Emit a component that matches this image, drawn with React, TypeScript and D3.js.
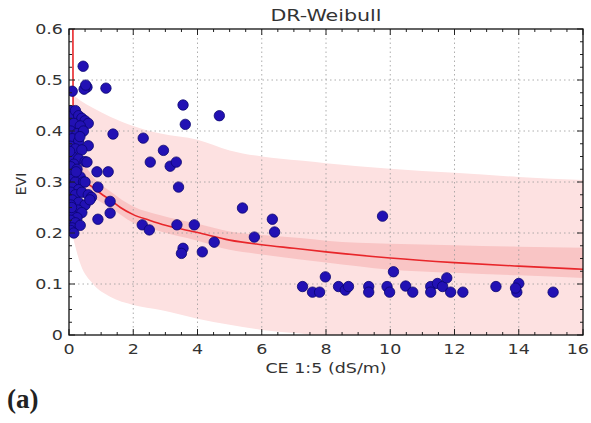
import React from "react";
import * as d3 from "d3";

// Fitted DR-Weibull curve, sampled along CE
const fitX = [0.12, 0.13, 0.3, 0.5, 0.75, 1, 1.28, 1.6, 2, 2.5, 3, 4, 5, 6, 7, 8, 10, 12, 14, 16];
const fitY = [0.65, 0.34, 0.318, 0.302, 0.289, 0.277, 0.265, 0.25, 0.236, 0.225, 0.215, 0.201, 0.186, 0.177, 0.17, 0.163, 0.151, 0.142, 0.135, 0.129];

// Confidence band (inner) and prediction band (outer)
const bandX = [0.13, 0.35, 0.75, 1.28, 2, 2.85, 4, 5, 6, 7.2, 8, 10, 12, 14, 16];
const ciLow = [0.3, 0.29, 0.27, 0.25, 0.22, 0.203, 0.185, 0.167, 0.158, 0.148, 0.142, 0.128, 0.122, 0.117, 0.112];
const ciHigh = [0.38, 0.35, 0.31, 0.282, 0.252, 0.235, 0.218, 0.203, 0.196, 0.19, 0.185, 0.179, 0.176, 0.173, 0.171];
const piLow = [0.19, 0.14, 0.1, 0.075, 0.059, 0.049, 0.032, 0.02, 0.01, 0.003, -0.003, -0.015, -0.025, -0.033, -0.04];
const piHigh = [0.47, 0.46, 0.445, 0.428, 0.41, 0.395, 0.383, 0.362, 0.35, 0.342, 0.337, 0.326, 0.318, 0.31, 0.304];

// Observed samples: CE 1:5 (dS/m) and EVI
const ceValues = [
  0.05, 0.1, 0.2, 0.3, 0.4, 0.5, 0.6, 0.15, 0.35, 0.05, 0.25, 0.45, 0.1, 0.3, 0.34, 0.05, 0.2, 0.6, 0.4, 0.1,
  0.3, 0.5, 0.56, 0.15, 0.05, 0.25, 0.1, 0.35, 0.05, 0.2, 0.45, 0.1, 0.3, 0.05, 0.2, 0.4, 0.6, 0.7, 0.1, 0.3,
  0.5, 0.05, 0.15, 0.28, 0.4, 0.1, 0.25, 0.05, 0.2, 0.1, 0.05, 0.15, 0.35, 0.65, 0.5, 0.22, 0.02, 0.08,
  0.44, 0.56, 0.47, 0.52, 1.15, 0.1,
  0.87, 1.22, 0.9, 0.9, 1.28, 1.28, 1.37,
  3.55, 3.62, 4.68, 2.31, 2.94, 2.53, 3.15, 3.34, 3.41,
  2.28, 2.5, 3.36, 3.9, 4.52, 3.55, 3.5, 4.15, 5.4, 5.77, 6.33, 6.4, 9.76,
  7.27, 7.58, 7.8, 7.98, 8.39, 8.6, 8.7, 9.33, 9.33, 9.9, 9.98, 10.1, 10.48, 10.7,
  11.26, 11.26, 11.47, 11.63, 11.76, 11.88, 12.26, 13.29, 14.0, 13.94, 13.9, 15.07,
];
const eviValues = [
  0.44, 0.43, 0.44, 0.43, 0.425, 0.42, 0.415, 0.415, 0.41, 0.4, 0.395, 0.4, 0.385, 0.38, 0.389, 0.37, 0.365, 0.371, 0.363, 0.35,
  0.345, 0.34, 0.339, 0.335, 0.33, 0.325, 0.315, 0.31, 0.305, 0.3, 0.3, 0.29, 0.285, 0.28, 0.275, 0.28, 0.275, 0.27, 0.265, 0.26,
  0.255, 0.255, 0.245, 0.245, 0.24, 0.235, 0.23, 0.225, 0.22, 0.21, 0.205, 0.2, 0.215, 0.265, 0.3, 0.32, 0.36, 0.25,
  0.527, 0.486, 0.482, 0.49, 0.484, 0.478,
  0.32, 0.32, 0.29, 0.227, 0.262, 0.239, 0.394,
  0.451, 0.413, 0.43, 0.386, 0.362, 0.339, 0.331, 0.339, 0.29,
  0.216, 0.206, 0.216, 0.216, 0.182, 0.17, 0.16, 0.163, 0.249, 0.192, 0.227, 0.202, 0.233,
  0.095, 0.084, 0.084, 0.114, 0.095, 0.088, 0.095, 0.095, 0.084, 0.095, 0.084, 0.124, 0.096, 0.084,
  0.095, 0.084, 0.101, 0.095, 0.112, 0.084, 0.084, 0.095, 0.101, 0.084, 0.092, 0.084,
];

const xTicks = [0, 2, 4, 6, 8, 10, 12, 14, 16];
const yTicks = [0, 0.1, 0.2, 0.3, 0.4, 0.5, 0.6];

const W = 591;
const H = 423;
const M = { left: 69, right: 583, top: 29, bottom: 335 };
const FONT = "'DejaVu Sans', sans-serif";
const TEXT_COL = "#333";
const WIDEN = 1.25;

// Horizontal text drawn slightly widened
function WideText(props: { x: number; y: number; size: number; anchor?: string; children: React.ReactNode }) {
  const { x, y, size, anchor = "start", children } = props;
  return (
    <text
      transform={`translate(${x},${y}) scale(${WIDEN},1)`}
      textAnchor={anchor}
      fontFamily={FONT}
      fontSize={size}
      fill={TEXT_COL}
    >
      {children}
    </text>
  );
}

export default function App() {
  const x = d3.scaleLinear().domain([0, 16]).range([M.left, M.right]);
  const y = d3.scaleLinear().domain([0, 0.6]).range([M.bottom, M.top]);

  const fitLine = d3
    .line<number>()
    .x((_, i) => x(fitX[i]))
    .y((d) => y(d))
    .curve(d3.curveMonotoneX)(fitY) as string;

  const band = (lo: number[], hi: number[]) =>
    d3
      .area<number>()
      .x((_, i) => x(bandX[i]))
      .y0((_, i) => y(lo[i]))
      .y1((d) => y(d))
      .curve(d3.curveMonotoneX)(hi) as string;

  const minorX = d3.range(0, 16.01, 0.5);
  const minorY = d3.range(0, 0.601, 0.025);
  const lastTick = xTicks[xTicks.length - 1];

  return (
    <svg width={W} height={H} style={{ position: "absolute", left: 0, top: 0, background: "#fff" }}>
      <defs>
        <clipPath id="plot">
          <rect x={M.left} y={M.top} width={M.right - M.left} height={M.bottom - M.top} />
        </clipPath>
      </defs>

      <g clipPath="url(#plot)">
        <path d={band(piLow, piHigh)} fill="#fde1e1" />
        <path d={band(ciLow, ciHigh)} fill="#f9c5c5" />
      </g>

      {/* dotted grid */}
      {xTicks.slice(1, -1).map((t) => (
        <line key={"gx" + t} x1={x(t)} x2={x(t)} y1={M.top} y2={M.bottom} stroke="#999" strokeWidth={0.8} strokeDasharray="1.5,3" />
      ))}
      {yTicks.slice(1, -1).map((t) => (
        <line key={"gy" + t} x1={M.left} x2={M.right} y1={y(t)} y2={y(t)} stroke="#999" strokeWidth={0.8} strokeDasharray="1.5,3" />
      ))}

      <g clipPath="url(#plot)">
        <path d={fitLine} fill="none" stroke="#e8262a" strokeWidth={1.6} />
      </g>

      {/* observations */}
      <g clipPath="url(#plot)">
        {ceValues.map((c, i) => (
          <circle key={i} cx={x(c)} cy={y(eviValues[i])} r={5.2} fill="#2211b4" stroke="#0a0570" strokeWidth={0.8} />
        ))}
      </g>

      {/* ticks, inward on all four sides */}
      {minorX.map((t, i) => {
        const len = i % 4 === 0 ? 6 : 3;
        return (
          <g key={"tx" + i} stroke="#222" strokeWidth={1}>
            <line x1={x(t)} x2={x(t)} y1={M.bottom} y2={M.bottom - len} />
            <line x1={x(t)} x2={x(t)} y1={M.top} y2={M.top + len} />
          </g>
        );
      })}
      {minorY.map((t, i) => {
        const len = i % 4 === 0 ? 6 : 3;
        return (
          <g key={"ty" + i} stroke="#222" strokeWidth={1}>
            <line x1={M.left} x2={M.left + len} y1={y(t)} y2={y(t)} />
            <line x1={M.right} x2={M.right - len} y1={y(t)} y2={y(t)} />
          </g>
        );
      })}

      <rect x={M.left} y={M.top} width={M.right - M.left} height={M.bottom - M.top} fill="none" stroke="#111" strokeWidth={1.3} />

      {xTicks.map((t) =>
        t === lastTick ? (
          <WideText key={"lx" + t} x={W - 2} y={M.bottom + 19} size={14} anchor="end">
            {d3.format("d")(t)}
          </WideText>
        ) : (
          <WideText key={"lx" + t} x={x(t)} y={M.bottom + 19} size={14} anchor="middle">
            {d3.format("d")(t)}
          </WideText>
        )
      )}
      {yTicks.map((t) => (
        <WideText key={"ly" + t} x={M.left - 6} y={y(t) + 5} size={14} anchor="end">
          {t === 0 ? "0" : d3.format(".1f")(t)}
        </WideText>
      ))}

      <WideText x={(M.left + M.right) / 2} y={373} size={14} anchor="middle">
        CE 1:5 (dS/m)
      </WideText>
      <text transform={`translate(26, ${(M.top + M.bottom) / 2 + 2}) rotate(-90)`} textAnchor="middle" fontFamily={FONT} fontSize={14} fill={TEXT_COL}>
        EVI
      </text>
      <WideText x={(M.left + M.right) / 2} y={21} size={16.5} anchor="middle">
        DR-Weibull
      </WideText>
      <text x={7} y={408} fontFamily="'Liberation Serif', 'DejaVu Serif', serif" fontSize={27} fontWeight="bold" fill="#222">
        (a)
      </text>
    </svg>
  );
}
